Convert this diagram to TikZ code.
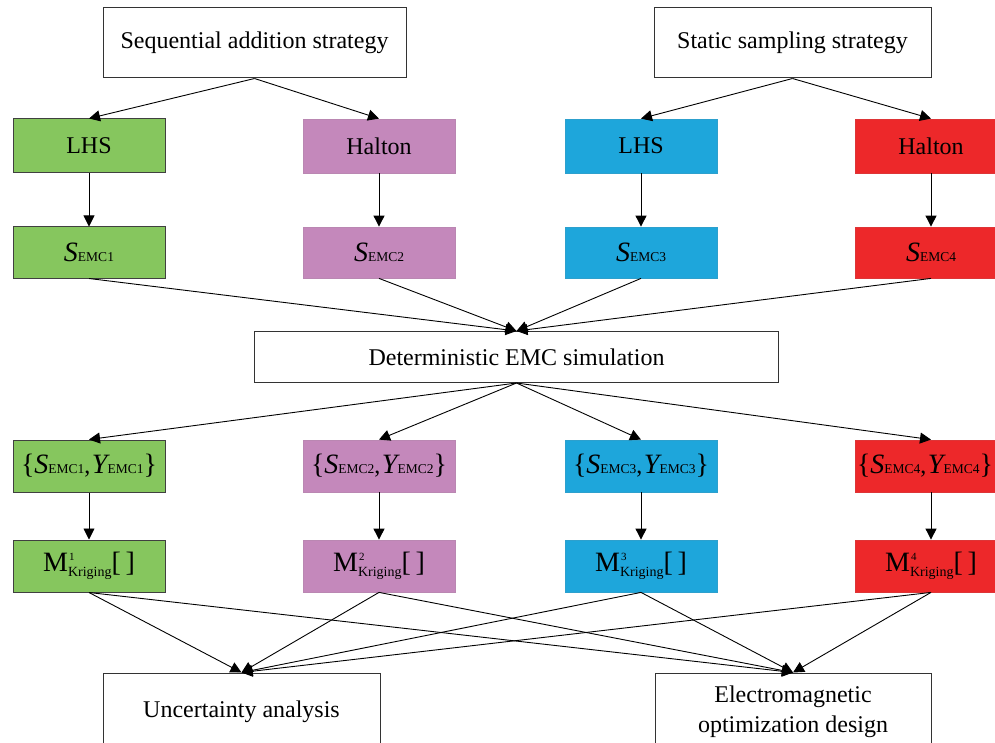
\documentclass[tikz,border=0pt]{standalone}
\usepackage{fontspec}
\setmainfont{Liberation Serif}
\usetikzlibrary{arrows.meta}
\definecolor{cgreen}{RGB}{134,198,94}
\definecolor{cpink}{RGB}{196,136,187}
\definecolor{cblue}{RGB}{30,166,219}
\definecolor{cred}{RGB}{237,40,42}
\newcommand\emcsub[1]{{\fontsize{13.5}{14}\selectfont #1}}
\newcommand\bigtxt[1]{{\fontsize{28}{30}\selectfont #1}}
\newcommand\slab[1]{\bigtxt{\itshape S}\emcsub{EMC#1}}
\newcommand\sylab[1]{\bigtxt{\{}\bigtxt{\itshape S}\emcsub{EMC#1},\kern1.5pt\bigtxt{\itshape Y}\emcsub{EMC#1}\bigtxt{\}}}
\newcommand\mklab[1]{\bigtxt{M}\rlap{\kern1pt\raisebox{11pt}{\fontsize{11}{11}\selectfont #1}}\raisebox{-5pt}{\fontsize{14}{14}\selectfont Kriging}\bigtxt{[\,]}}
\begin{document}
\begin{tikzpicture}[x=1pt,y=-1pt,
  base/.style={inner sep=0pt, font=\fontsize{24}{30}\selectfont, align=center},
  wbox/.style={base, draw=black!80, line width=1pt, fill=white},
  gbox/.style={base, draw=black!75, line width=1pt, fill=cgreen, minimum width=152pt},
  pbox/.style={base, draw=cpink!85!gray, line width=0.8pt, fill=cpink, minimum width=152pt},
  bbox/.style={base, draw=cblue!85!gray, line width=0.8pt, fill=cblue, minimum width=152pt},
  rbox/.style={base, draw=cred!85!gray, line width=0.8pt, fill=cred, minimum width=152pt},
  arr/.style={draw=black, line width=0.9pt, -{Triangle[length=11pt,width=11pt]}}
]
\useasboundingbox (0,0) rectangle (995,743);
\clip (0,0) rectangle (995,743);

% top strategy boxes
\node[wbox, minimum width=303pt, minimum height=70pt] (seq) at (254.5,43) {Sequential addition strategy};
\node[wbox, minimum width=277pt, minimum height=70pt] (stat) at (792.5,43) {Static sampling strategy};

% row 1: methods
\node[gbox, minimum height=54pt] (m1) at (89,146) {LHS};
\node[pbox, minimum height=54pt] (m2) at (379,146) {Halton};
\node[bbox, minimum height=54pt] (m3) at (641,146) {LHS};
\node[rbox, minimum height=54pt] (m4) at (931,146) {Halton};

% row 2: samples
\node[gbox, minimum height=51pt] (s1) at (89,252.5) {\slab{1}};
\node[pbox, minimum height=51pt] (s2) at (379,252.5) {\slab{2}};
\node[bbox, minimum height=51pt] (s3) at (641,252.5) {\slab{3}};
\node[rbox, minimum height=51pt] (s4) at (931,252.5) {\slab{4}};

% deterministic simulation
\node[wbox, minimum width=524pt, minimum height=51pt] (det) at (516.5,357) {Deterministic EMC simulation};

% row 3: sample/response pairs
\node[gbox, minimum height=52pt] (p1) at (89,466) {\sylab{1}};
\node[pbox, minimum height=52pt] (p2) at (379,466) {\sylab{2}};
\node[bbox, minimum height=52pt] (p3) at (641,466) {\sylab{3}};
\node[rbox, minimum height=52pt] (p4) at (931,466) {\sylab{4}\kern12pt};

% row 4: Kriging models
\node[gbox, minimum height=52pt] (k1) at (89,566) {\mklab{1}};
\node[pbox, minimum height=52pt] (k2) at (379,566) {\mklab{2}};
\node[bbox, minimum height=52pt] (k3) at (641,566) {\mklab{3}};
\node[rbox, minimum height=52pt] (k4) at (931,566) {\mklab{4}};

% bottom boxes
\node[wbox, minimum width=277pt, minimum height=78pt] (unc) at (241.5,712) {Uncertainty analysis};
\node[wbox, minimum width=276pt, minimum height=78pt] (em) at (793,712) {Electromagnetic\\optimization design};

% connectors
\draw[arr] (seq.south) -- (m1.north);
\draw[arr] (seq.south) -- (m2.north);
\draw[arr] (stat.south) -- (m3.north);
\draw[arr] (stat.south) -- (m4.north);
\foreach \i in {1,2,3,4}{
  \draw[arr] (m\i.south) -- (s\i.north);
  \draw[arr] (s\i.south) -- (det.north);
  \draw[arr] (det.south) -- (p\i.north);
  \draw[arr] (p\i.south) -- (k\i.north);
  \draw[arr] (k\i.south) -- (unc.north);
  \draw[arr] (k\i.south) -- (em.north);
}
\end{tikzpicture}
\end{document}
